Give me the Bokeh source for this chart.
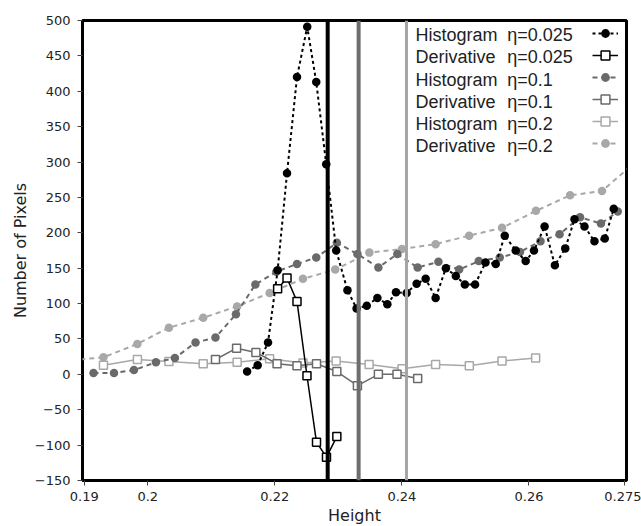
from bokeh.plotting import figure
from bokeh.models import Span, Label, Legend, LegendItem, FixedTicker, Range1d
from bokeh.embed import file_html
from bokeh.resources import INLINE

# ---------------- data ----------------
hist_025_x = [0.21564, 0.21730, 0.21893, 0.22044, 0.22192, 0.22349, 0.22510, 0.22652,
              0.22809, 0.22966, 0.23143, 0.23287, 0.23447, 0.23614, 0.23771, 0.23907,
              0.24075, 0.24232, 0.24374, 0.24531, 0.24692, 0.24849, 0.24991, 0.25152,
              0.25316, 0.25477, 0.25619, 0.25791, 0.25948, 0.26079, 0.26246, 0.26408,
              0.26571, 0.26717, 0.26874, 0.27031, 0.27193, 0.27334]
hist_025_y = [4, 13, 45, 147, 284, 420, 491, 413, 297, 175, 119, 93, 97, 108, 99, 116,
              115, 128, 135, 108, 150, 139, 127, 127, 158, 156, 196, 175, 160, 175, 209,
              154, 178, 219, 209, 188, 192, 234]

deriv_025_x = [0.22044, 0.22192, 0.22349, 0.22506, 0.22656, 0.22813, 0.22976]
deriv_025_y = [121, 136, 103, -2, -96, -117, -88]

hist_01_x = [0.19146, 0.19469, 0.19783, 0.20129, 0.20427, 0.20752, 0.21066, 0.21388,
             0.21694, 0.22024, 0.22349, 0.22652, 0.22976, 0.23300, 0.23630, 0.23928,
             0.24248, 0.24575, 0.24901, 0.25210, 0.25540, 0.25859, 0.26181, 0.26482,
             0.26804, 0.27133, 0.27397]
hist_01_y = [2, 2, 6, 17, 23, 45, 52, 85, 127, 145, 156, 165, 186, 170, 151, 170, 151,
             159, 148, 160, 165, 173, 188, 198, 222, 213, 230]

deriv_01_x = [0.21066, 0.21398, 0.21702, 0.22035, 0.22349, 0.22656, 0.22976, 0.23300,
              0.23630, 0.23923, 0.24248]
deriv_01_y = [21, 37, 31, 15, 12, 15, 4, -16, 0, 0, -6]

# eta = 0.2, light grey squares (solid line)
hist_02_x = [0.19303, 0.19837, 0.20333, 0.20873, 0.21407, 0.21918, 0.22443, 0.22965,
             0.23484, 0.24002, 0.24531, 0.25061, 0.25576, 0.26105]
hist_02_y = [13, 21, 18, 15, 17, 22, 16, 19, 14, 8, 14, 12, 19, 23]

# eta = 0.2, light grey circles (dashed line)
deriv_02_x = [0.18797, 0.19303, 0.19837, 0.20333, 0.20873, 0.21407, 0.21918, 0.22443,
              0.22950, 0.23488, 0.24002, 0.24531, 0.25058, 0.25576, 0.26110, 0.26647,
              0.27149, 0.27675]
deriv_02_y = [20, 24, 43, 66, 80, 96, 115, 135, 148, 172, 177, 184, 196, 207, 231, 253,
              259, 300]

threshold_x = [0.22832, 0.23319, 0.24072]   # vertical lines: eta 0.025, 0.1, 0.2

x_ticks = [0.19, 0.2, 0.22, 0.24, 0.26, 0.275]
x_tick_labels = ["0.19", "0.2", "0.22", "0.24", "0.26", "0.275"]
y_ticks = [-150, -100, -50, 0, 50, 100, 150, 200, 250, 300, 350, 400, 450, 500]

legend_names = ["Histogram", "Derivative", "Histogram", "Derivative", "Histogram", "Derivative"]
legend_etas = ["\u03b7=0.025", "\u03b7=0.025", "\u03b7=0.1", "\u03b7=0.1", "\u03b7=0.2", "\u03b7=0.2"]

# ---------------- styles ----------------
BLACK = "#000000"
DARK = "#6a6a6a"
LIGHT = "#a8a8a8"
TICK_FONT = "DejaVu Sans"
FRAME_W, FRAME_H = 544, 460

p = figure(width=641, height=526, frame_width=FRAME_W, frame_height=FRAME_H,
           output_backend="svg", toolbar_location=None,
           x_range=Range1d(0.18973, 0.27535), y_range=Range1d(-150, 500),
           min_border_left=82, min_border_right=15, min_border_top=20, min_border_bottom=46)
p.background_fill_color = "white"
p.border_fill_color = "white"
p.outline_line_color = "black"
p.outline_line_width = 3
p.xgrid.visible = False
p.ygrid.visible = False

for ax in (p.xaxis[0], p.yaxis[0]):
    ax.axis_line_color = None
    ax.major_tick_in = 0
    ax.major_tick_out = 5
    ax.major_tick_line_color = "#444444"
    ax.major_tick_line_width = 1
    ax.minor_tick_line_color = None
    ax.major_label_text_font = TICK_FONT
    ax.major_label_text_font_size = "13px"
    ax.major_label_text_color = "#222222"
    ax.axis_label_text_font = TICK_FONT
    ax.axis_label_text_font_size = "16px"
    ax.axis_label_text_font_style = "normal"
    ax.axis_label_text_color = "#222222"

p.xaxis.ticker = FixedTicker(ticks=x_ticks)
p.xaxis.major_label_overrides = dict(zip(x_ticks, x_tick_labels))
p.xaxis.major_label_standoff = 6
p.xaxis.axis_label = "Height"
p.xaxis.axis_label_standoff = 2
p.yaxis.ticker = FixedTicker(ticks=y_ticks)
p.yaxis.major_label_standoff = 7
p.yaxis.axis_label = "Number of Pixels"
p.yaxis.axis_label_standoff = 2

# eta = 0.2 (light)
l02c = p.line(deriv_02_x, deriv_02_y, line_color=LIGHT, line_width=2, line_dash="5 4")
s02c = p.scatter(deriv_02_x, deriv_02_y, marker="circle", size=8.5, fill_color=LIGHT, line_color=None)
l02s = p.line(hist_02_x, hist_02_y, line_color=LIGHT, line_width=1.5)
s02s = p.scatter(hist_02_x, hist_02_y, marker="square", size=8, fill_color="white",
                 line_color=LIGHT, line_width=1.5)
# eta = 0.1 (dark grey)
l01h = p.line(hist_01_x, hist_01_y, line_color=DARK, line_width=2, line_dash="5 4")
s01h = p.scatter(hist_01_x, hist_01_y, marker="circle", size=8.5, fill_color=DARK, line_color=None)
l01d = p.line(deriv_01_x, deriv_01_y, line_color=DARK, line_width=1.5)
s01d = p.scatter(deriv_01_x, deriv_01_y, marker="square", size=8, fill_color="white",
                 line_color=DARK, line_width=1.5)
# eta = 0.025 (black)
l025h = p.line(hist_025_x, hist_025_y, line_color=BLACK, line_width=2, line_dash="3 3")
s025h = p.scatter(hist_025_x, hist_025_y, marker="circle", size=8.5, fill_color=BLACK, line_color=None)
l025d = p.line(deriv_025_x, deriv_025_y, line_color=BLACK, line_width=1.5)
s025d = p.scatter(deriv_025_x, deriv_025_y, marker="square", size=8, fill_color="white",
                  line_color=BLACK, line_width=1.5)

for loc, col, w in zip(threshold_x, [BLACK, "#6e6e6e", "#a5a5a5"], [4, 4, 3]):
    p.add_layout(Span(location=loc, dimension="height", line_color=col, line_width=w))

# legend glyphs (on the right of the texts, as in the original)
items = [
    LegendItem(label=" ", renderers=[l025h, s025h]),
    LegendItem(label=" ", renderers=[l025d, s025d]),
    LegendItem(label=" ", renderers=[l01h, s01h]),
    LegendItem(label=" ", renderers=[l01d, s01d]),
    LegendItem(label=" ", renderers=[l02s, s02s]),
    LegendItem(label=" ", renderers=[l02c, s02c]),
]
GLYPH_W, ROW_H = 26, 22
leg = Legend(items=items, location=(FRAME_W - 8 - GLYPH_W, FRAME_H - 2 - 6 * ROW_H),
             padding=0, spacing=0, margin=0,
             glyph_width=GLYPH_W, glyph_height=ROW_H, label_width=0, label_standoff=0,
             label_text_font_size="1px", border_line_alpha=0, background_fill_alpha=0)
p.add_layout(leg)

# legend texts
name_x, eta_x = 0.24214, 0.25657
row_top, row_step = 479.0, 31.2
for i, (nm, et) in enumerate(zip(legend_names, legend_etas)):
    yy = row_top - i * row_step
    for xx, txt in ((name_x, nm), (eta_x, et)):
        p.add_layout(Label(x=xx, y=yy, text=txt, text_font="Liberation Sans",
                           text_font_size="18px", text_color="#222222",
                           text_baseline="middle", text_align="left"))

open("out.html", "w").write(file_html(p, INLINE))
